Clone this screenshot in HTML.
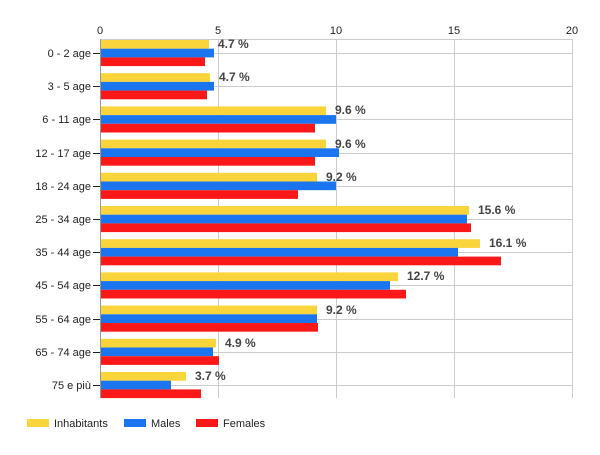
<!DOCTYPE html>
<html><head><style>body{margin:0;background:#fff}</style></head><body>
<svg width="600" height="450" xmlns="http://www.w3.org/2000/svg" font-family="Liberation Sans, sans-serif">
<rect width="600" height="450" fill="#fff"/>
<g stroke="#ccc" stroke-width="1">
<line x1="218.5" y1="39" x2="218.5" y2="398"/><line x1="336.5" y1="39" x2="336.5" y2="398"/>
<line x1="454.5" y1="39" x2="454.5" y2="398"/><line x1="572.5" y1="39" x2="572.5" y2="398"/>
<line x1="100" y1="39.5" x2="573" y2="39.5"/>
<line x1="100" x2="573" y1="53.5" y2="53.5"/><line x1="100" x2="573" y1="86.5" y2="86.5"/>
<line x1="100" x2="573" y1="119.5" y2="119.5"/><line x1="100" x2="573" y1="153.5" y2="153.5"/>
<line x1="100" x2="573" y1="186.5" y2="186.5"/><line x1="100" x2="573" y1="219.5" y2="219.5"/>
<line x1="100" x2="573" y1="252.5" y2="252.5"/><line x1="100" x2="573" y1="285.5" y2="285.5"/>
<line x1="100" x2="573" y1="319.5" y2="319.5"/><line x1="100" x2="573" y1="352.5" y2="352.5"/>
<line x1="100" x2="573" y1="385.5" y2="385.5"/>
</g>
<g>
<rect x="101" y="40" width="108" height="8.7" fill="#f9d43a"/><rect x="101" y="48.7" width="113" height="8.7" fill="#1a75ef"/><rect x="101" y="57.4" width="104" height="8.7" fill="#fb1818"/>
<rect x="101" y="73.2" width="109" height="8.7" fill="#f9d43a"/><rect x="101" y="81.9" width="113" height="8.7" fill="#1a75ef"/><rect x="101" y="90.6" width="106" height="8.7" fill="#fb1818"/>
<rect x="101" y="106.4" width="225" height="8.7" fill="#f9d43a"/><rect x="101" y="115.1" width="235" height="8.7" fill="#1a75ef"/><rect x="101" y="123.8" width="214" height="8.7" fill="#fb1818"/>
<rect x="101" y="139.6" width="225" height="8.7" fill="#f9d43a"/><rect x="101" y="148.3" width="238" height="8.7" fill="#1a75ef"/><rect x="101" y="157" width="214" height="8.7" fill="#fb1818"/>
<rect x="101" y="172.8" width="216" height="8.7" fill="#f9d43a"/><rect x="101" y="181.5" width="235" height="8.7" fill="#1a75ef"/><rect x="101" y="190.2" width="197" height="8.7" fill="#fb1818"/>
<rect x="101" y="206" width="368" height="8.7" fill="#f9d43a"/><rect x="101" y="214.7" width="366" height="8.7" fill="#1a75ef"/><rect x="101" y="223.4" width="370" height="8.7" fill="#fb1818"/>
<rect x="101" y="239.2" width="379" height="8.7" fill="#f9d43a"/><rect x="101" y="247.9" width="357" height="8.7" fill="#1a75ef"/><rect x="101" y="256.6" width="400" height="8.7" fill="#fb1818"/>
<rect x="101" y="272.4" width="297" height="8.7" fill="#f9d43a"/><rect x="101" y="281.1" width="289" height="8.7" fill="#1a75ef"/><rect x="101" y="289.8" width="305" height="8.7" fill="#fb1818"/>
<rect x="101" y="305.6" width="216" height="8.7" fill="#f9d43a"/><rect x="101" y="314.3" width="216" height="8.7" fill="#1a75ef"/><rect x="101" y="323" width="217" height="8.7" fill="#fb1818"/>
<rect x="101" y="338.8" width="115" height="8.7" fill="#f9d43a"/><rect x="101" y="347.5" width="112" height="8.7" fill="#1a75ef"/><rect x="101" y="356.2" width="118" height="8.7" fill="#fb1818"/>
<rect x="101" y="372" width="85" height="8.7" fill="#f9d43a"/><rect x="101" y="380.7" width="70" height="8.7" fill="#1a75ef"/><rect x="101" y="389.4" width="100" height="8.7" fill="#fb1818"/>
</g>
<g font-size="12" font-weight="bold" fill="#444">
<text x="218" y="48">4.7 %</text><text x="219" y="81">4.7 %</text><text x="335" y="114">9.6 %</text>
<text x="335" y="148">9.6 %</text><text x="326" y="181">9.2 %</text><text x="478" y="214">15.6 %</text>
<text x="489" y="247">16.1 %</text><text x="407" y="280">12.7 %</text><text x="326" y="314">9.2 %</text>
<text x="225" y="347">4.9 %</text><text x="195" y="380">3.7 %</text>
</g>
<line x1="100.5" y1="39" x2="100.5" y2="398" stroke="#999"/>
<g font-size="11" fill="#222" text-anchor="middle">
<text x="100" y="34">0</text><text x="218" y="34">5</text><text x="336" y="34">10</text><text x="454" y="34">15</text><text x="572" y="34">20</text>
</g>
<g font-size="11" fill="#222" text-anchor="end">
<text x="91" y="57">0 - 2 age</text><text x="91" y="90">3 - 5 age</text><text x="91" y="123">6 - 11 age</text>
<text x="91" y="157">12 - 17 age</text><text x="91" y="190">18 - 24 age</text><text x="91" y="223">25 - 34 age</text>
<text x="91" y="256">35 - 44 age</text><text x="91" y="289">45 - 54 age</text><text x="91" y="323">55 - 64 age</text>
<text x="91" y="356">65 - 74 age</text><text x="91" y="389">75 e più</text>
</g>
<g stroke="#222">
<line x1="93" x2="100" y1="53.5" y2="53.5"/><line x1="93" x2="100" y1="86.5" y2="86.5"/><line x1="93" x2="100" y1="119.5" y2="119.5"/>
<line x1="93" x2="100" y1="153.5" y2="153.5"/><line x1="93" x2="100" y1="186.5" y2="186.5"/><line x1="93" x2="100" y1="219.5" y2="219.5"/>
<line x1="93" x2="100" y1="252.5" y2="252.5"/><line x1="93" x2="100" y1="285.5" y2="285.5"/><line x1="93" x2="100" y1="319.5" y2="319.5"/>
<line x1="93" x2="100" y1="352.5" y2="352.5"/><line x1="93" x2="100" y1="385.5" y2="385.5"/>
</g>
<g font-size="11" fill="#222">
<rect x="27" y="419" width="22" height="8" fill="#f9d43a"/><text x="54" y="427">Inhabitants</text>
<rect x="124" y="419" width="22" height="8" fill="#1a75ef"/><text x="151" y="427">Males</text>
<rect x="196" y="419" width="22" height="8" fill="#fb1818"/><text x="223" y="427">Females</text>
</g>
</svg>
</body></html>
